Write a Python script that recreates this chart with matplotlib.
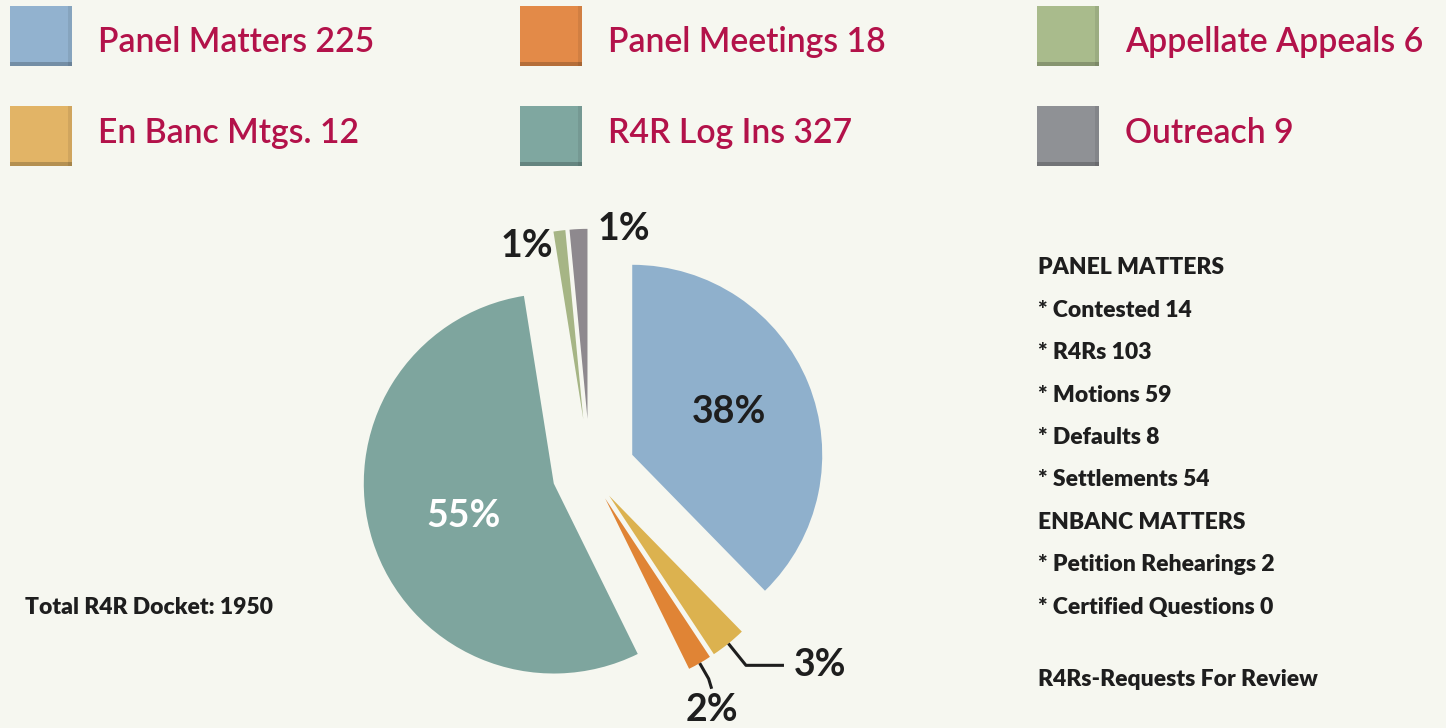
import matplotlib.pyplot as plt
from matplotlib.patches import Rectangle
import numpy as np

# legend entries (as printed above the pie)
legend_labels = ["Panel Matters", "Panel Meetings", "Appellate Appeals",
                 "En Banc Mtgs.", "R4R Log Ins", "Outreach"]
legend_counts = [225, 18, 6, 12, 327, 9]
legend_colors = ["#92b2cf", "#e38a48", "#a9bb8c", "#e2b466", "#7fa7a0", "#8f9195"]

# pie slices, clockwise from 12 o'clock as drawn
slice_values = [225, 18, 12, 327, 6, 9]
slice_colors = ["#8fb0cc", "#dcb24f", "#e08435", "#7ea59e", "#a6b585", "#8e898e"]
slice_labels = ["38%", "3%", "2%", "55%", "1%", "1%"]
slice_explode = [0.24, 0.16, 0.16, 0.2, 0.28, 0.28]

detail_lines = ["PANEL MATTERS", "* Contested 14", "* R4Rs 103", "* Motions 59",
                "* Defaults 8", "* Settlements 54", "ENBANC MATTERS",
                "* Petition Rehearings 2", "* Certified Questions 0"]
footnote = "R4Rs-Requests For Review"
total_text = "Total R4R Docket: 1950"

W, H = 1446, 728
BG = "#f6f7f0"
CRIMSON = "#b3124a"
INK = "#1e1e1e"
R = 190.0           # pie radius in pixels
cx, cy = 590, 472   # pie centre, pixels from top-left

plt.rcParams['font.family'] = ['Lato', 'DejaVu Sans']

fig = plt.figure(figsize=(W / 100, H / 100), dpi=100)
fig.patch.set_facecolor(BG)


def px(x, y):
    return x / W, 1 - y / H


# full-figure axes, 1 unit = R pixels
ax = fig.add_axes([0, 0, 1, 1])
ax.set_facecolor(BG)
wedges, _ = ax.pie(slice_values, colors=slice_colors, explode=slice_explode,
                   startangle=90, counterclock=False, radius=1,
                   wedgeprops=dict(linewidth=0))
ax.set_xlim(-cx / R, (W - cx) / R)
ax.set_ylim(-(H - cy) / R, cy / R)
ax.set_aspect('equal')
ax.axis('off')


def wedge_point(w, frac_r, ang=None):
    if ang is None:
        ang = np.deg2rad((w.theta1 + w.theta2) / 2)
    x0, y0 = w.center
    return x0 + frac_r * w.r * np.cos(ang), y0 + frac_r * w.r * np.sin(ang)


# big labels inside
bx, by = wedge_point(wedges[0], 0.55)
ax.text(bx, by + 0.02, slice_labels[0], ha='center', va='center', fontsize=27,
        fontweight='bold', color=INK)
tx, ty = wedge_point(wedges[3], 0.5)
ax.text(tx, ty - 0.02, slice_labels[3], ha='center', va='center', fontsize=27,
        fontweight='bold', color='white')

# tiny top slices: label just beside their tips
gx, gy = wedge_point(wedges[4], 1.0)
ax.text(gx - 0.03, gy - 0.08, slice_labels[4], ha='right', va='center',
        fontsize=27, fontweight='bold', color=INK)
sx, sy = wedge_point(wedges[5], 1.0)
ax.text(sx + 0.1, sy, slice_labels[5], ha='left', va='center',
        fontsize=27, fontweight='bold', color=INK)

# leader lines for the two thin slices on the lower right
for i, bend in [(1, 'h'), (2, 'v')]:
    w = wedges[i]
    ang = np.deg2rad((w.theta1 + w.theta2) / 2)
    x0, y0 = wedge_point(w, 1.0)
    if bend == 'h':
        x1, y1 = x0 + 28 / R * np.cos(ang), y0 + 28 / R * np.sin(ang)
        x2, y2 = x1 + 38 / R, y1
        ax.plot([x0, x1, x2], [y0, y1, y2], color=INK, lw=2.2,
                solid_capstyle='butt')
        ax.text(x2 + 10 / R, y2, slice_labels[i], ha='left', va='center',
                fontsize=27, fontweight='bold', color=INK)
    else:
        x1, y1 = x0 + 18 / R * np.cos(ang), y0 + 18 / R * np.sin(ang)
        x2, y2 = x1 + 3 / R, y1 - 10 / R
        ax.plot([x0, x1, x2], [y0, y1, y2], color=INK, lw=2.2,
                solid_capstyle='butt')
        ax.text(x2, y2 - 4 / R, slice_labels[i], ha='center', va='top',
                fontsize=27, fontweight='bold', color=INK)

# legend squares + labels (3 columns x 2 rows)
col_x = [10, 520, 1037]
row_y = [6, 106]
text_y = [42, 133]
for k, (lab, cnt, col) in enumerate(zip(legend_labels, legend_counts, legend_colors)):
    x = col_x[k % 3]
    y = row_y[k // 3]
    fx, fy = px(x, y + 60)
    fig.patches.append(Rectangle((fx, fy), 62 / W, 60 / H, transform=fig.transFigure,
                                 facecolor=col, edgecolor='none'))
    # bevel: darker bottom and right edges
    fig.patches.append(Rectangle((fx, fy), 62 / W, 4 / H, transform=fig.transFigure,
                                 facecolor='black', alpha=0.2, edgecolor='none'))
    fig.patches.append(Rectangle((fx + 58 / W, fy), 4 / W, 60 / H,
                                 transform=fig.transFigure, facecolor='black',
                                 alpha=0.08, edgecolor='none'))
    tx_, ty_ = px(x + 88, text_y[k // 3])
    fig.text(tx_, ty_, f"{lab} {cnt}", ha='left', va='center', fontsize=24.3,
             fontweight='semibold', color=CRIMSON)

# detail block on the right
for j, line in enumerate(detail_lines):
    fx, fy = px(1038, 268 + j * 42.4)
    fig.text(fx, fy, line, ha='left', va='center', fontsize=16.5,
             fontweight='heavy', color=INK)
fx, fy = px(1038, 680)
fig.text(fx, fy, footnote, ha='left', va='center', fontsize=16.5,
         fontweight='heavy', color=INK)

fx, fy = px(25, 607)
fig.text(fx, fy, total_text, ha='left', va='center', fontsize=16.5,
         fontweight='heavy', color=INK)

fig.savefig("out.png", dpi=100, facecolor=BG)
